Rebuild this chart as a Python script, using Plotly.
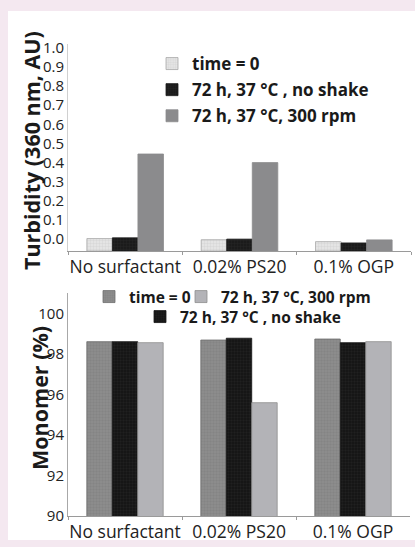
import plotly.graph_objects as go

# ---------------- data ----------------
categories = ["No surfactant", "0.02% PS20", "0.1% OGP"]

# Top panel: turbidity (360 nm, AU), read in the axis label scale
turb_time0 = [0.003, -0.003, -0.013]
turb_noshake = [0.007, 0.000, -0.020]
turb_300rpm = [0.445, 0.400, -0.004]
turb_ticks = [0.0, 0.1, 0.2, 0.3, 0.4, 0.5, 0.6, 0.7, 0.8, 0.9, 1.0]
turb_ticklabels = ["0.0", "0.1", "0.2", "0.3", "0.4", "0.5", "0.6", "0.7", "0.8", "0.9", "1.0"]

# Bottom panel: monomer (%)
mono_time0 = [98.60, 98.68, 98.73]
mono_noshake = [98.60, 98.77, 98.55]
mono_300rpm = [98.55, 95.59, 98.60]
mono_ticks = [90, 92, 94, 96, 98, 100]

labels = ["time = 0", "72 h, 37 °C , no shake", "72 h, 37 °C, 300 rpm"]
titles = ["Turbidity (360 nm, AU)", "Monomer (%)"]

# ---------------- style ----------------
W, H = 415, 547
FONT = "Open Sans"
TURB_BASE = -0.062   # where the turbidity bars start (below the "0.0" label)


def px_x(p):
    return p / W


def px_y(p):
    return 1 - p / H


fig = go.Figure()

pat_light = dict(shape="+", size=3, solidity=0.15, fgcolor="#b0b0b0", fgopacity=0.6)
pat_dark = dict(shape="+", size=3, solidity=0.15, fgcolor="#444444", fgopacity=0.5)
pat_mid = dict(shape="+", size=3, solidity=0.15, fgcolor="#6a6a6a", fgopacity=0.6)

# top panel traces
fig.add_trace(go.Bar(
    x=categories, y=[v - TURB_BASE for v in turb_time0], base=TURB_BASE,
    name=labels[0], legendgroup="a",
    marker=dict(color="#e4e4e4", line=dict(color="#a8a8a8", width=0.8), pattern=pat_light),
    xaxis="x", yaxis="y", legend="legend"))
fig.add_trace(go.Bar(
    x=categories, y=[v - TURB_BASE for v in turb_noshake], base=TURB_BASE,
    name=labels[1], legendgroup="b",
    marker=dict(color="#1b1b1b", line=dict(color="#1b1b1b", width=0.8), pattern=pat_dark),
    xaxis="x", yaxis="y", legend="legend"))
fig.add_trace(go.Bar(
    x=categories, y=[v - TURB_BASE for v in turb_300rpm], base=TURB_BASE,
    name=labels[2], legendgroup="c",
    marker=dict(color="#8b8b8d", line=dict(color="#8b8b8d", width=0.8)),
    xaxis="x", yaxis="y", legend="legend"))

# bottom panel traces
fig.add_trace(go.Bar(
    x=categories, y=mono_time0, name=labels[0],
    marker=dict(color="#8c8c8c", line=dict(color="#6e6e6e", width=0.8), pattern=pat_mid),
    xaxis="x2", yaxis="y2", legend="legend2"))
fig.add_trace(go.Bar(
    x=categories, y=mono_noshake, name=labels[1],
    marker=dict(color="#161616", line=dict(color="#161616", width=0.8), pattern=pat_dark),
    xaxis="x2", yaxis="y2", legend="legend3"))
fig.add_trace(go.Bar(
    x=categories, y=mono_300rpm, name=labels[2],
    marker=dict(color="#b3b3b7", line=dict(color="#8e8e8e", width=0.8)),
    xaxis="x2", yaxis="y2", legend="legend4"))

tick_font = dict(family=FONT, size=15, color="#222222")
cat_font = dict(family=FONT, size=17.5, color="#222222")
title_font = dict(family=FONT, size=21.5, color="#1a1a1a", weight="bold")
leg_font = dict(family=FONT, size=17, color="#1a1a1a", weight="bold")
leg_font2 = dict(family=FONT, size=15.5, color="#1a1a1a", weight="bold")

hleg = dict(xanchor="left", yanchor="top", orientation="h", bgcolor="rgba(0,0,0,0)",
            font=leg_font2, itemwidth=30)

xcommon = dict(showline=True, linecolor="#9a9a9a", linewidth=1, ticks="outside",
               tickson="boundaries", ticklen=3, tickcolor="#9a9a9a", tickangle=0,
               tickfont=cat_font, showgrid=False, zeroline=False, automargin=False)

fig.update_layout(
    width=W, height=H,
    margin=dict(l=0, r=0, t=0, b=0, autoexpand=False),
    paper_bgcolor="#f4e8f0",
    plot_bgcolor="rgba(0,0,0,0)",
    barmode="group", bargap=0.33, bargroupgap=0,
    showlegend=True,
    xaxis=dict(domain=[px_x(68), px_x(411)], anchor="y", **xcommon),
    yaxis=dict(domain=[px_y(251), px_y(44)], anchor="x", range=[TURB_BASE, 1.02],
               tickvals=turb_ticks, ticktext=turb_ticklabels, showline=True, linecolor="#d0d0d0",
               linewidth=1, ticks="", tickfont=tick_font, showgrid=False, zeroline=False,
               automargin=False),
    xaxis2=dict(domain=[px_x(68), px_x(410)], anchor="y2", **xcommon),
    yaxis2=dict(domain=[px_y(516), px_y(293)], anchor="x2", range=[90, 101],
                tickvals=mono_ticks, showline=True, linecolor="#a8a8a8", linewidth=1,
                ticks="", tickfont=tick_font, showgrid=False, zeroline=False, automargin=False),
    legend=dict(x=px_x(152), y=px_y(46), xanchor="left", yanchor="top",
                bgcolor="rgba(0,0,0,0)", font=leg_font, itemwidth=30,
                traceorder="grouped", tracegroupgap=1),
    legend2=dict(x=px_x(89), y=px_y(280), **hleg),
    legend4=dict(x=px_x(181), y=px_y(280), **hleg),
    legend3=dict(x=px_x(140), y=px_y(300), **hleg),
    shapes=[dict(type="rect", xref="paper", yref="paper", x0=px_x(8), x1=1.0,
                 y0=px_y(540), y1=px_y(11), fillcolor="white", line=dict(width=0), layer="below")],
    annotations=[
        dict(text=titles[0], xref="paper", yref="paper", x=px_x(32), y=px_y(151),
             textangle=-90, showarrow=False, font=title_font, xanchor="center", yanchor="middle"),
        dict(text=titles[1], xref="paper", yref="paper", x=px_x(39), y=px_y(398),
             textangle=-90, showarrow=False, font=title_font, xanchor="center", yanchor="middle"),
    ],
)

fig.write_html("out.html")
